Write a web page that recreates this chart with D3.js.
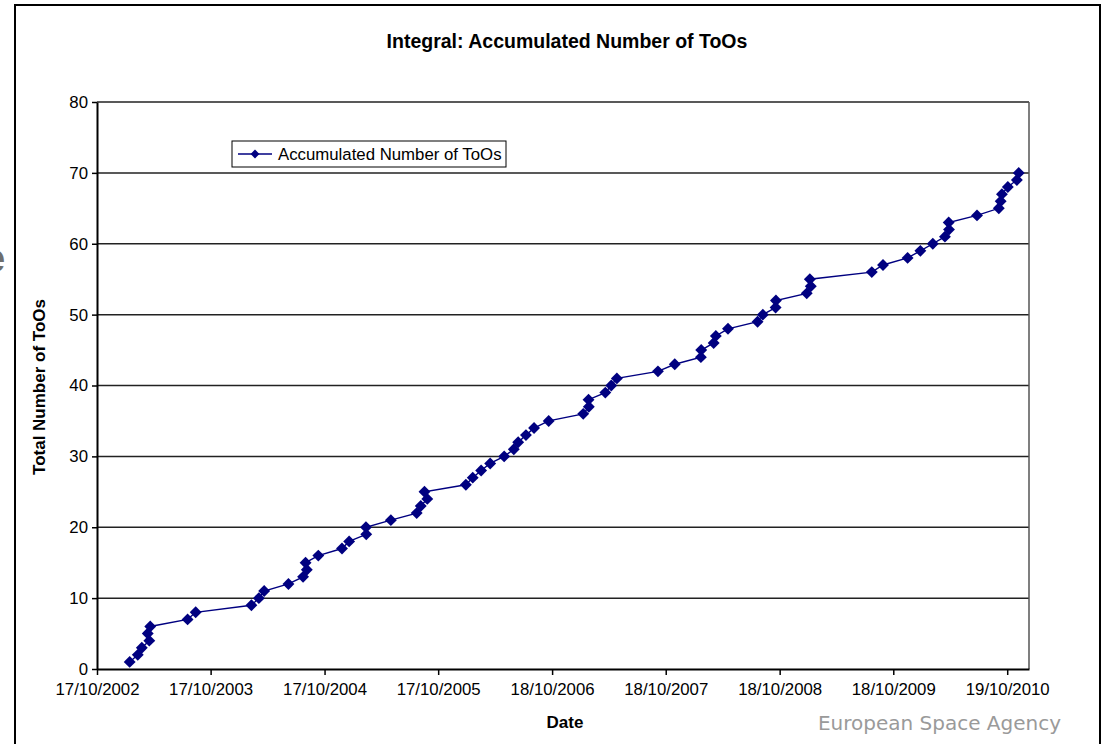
<!DOCTYPE html>
<html>
<head>
<meta charset="utf-8">
<script src="https://cdn.jsdelivr.net/npm/d3@7"></script>
<style>
  body { margin: 0; background: #fff; }
  svg { display: block; }
</style>
</head>
<body>
<script>
// Paramètres
const width = 1108;
const height = 744;
const margin = { top: 102, right: 79, bottom: 75, left: 97 };

// dates des ToOs (ordre du fichier, pas toujours trié)
const tooDates = [
  '2003-01-30', '2003-02-25', '2003-03-10', '2003-04-03', '2003-03-29',
  '2003-04-06', '2003-08-04', '2003-08-30', '2004-02-25', '2004-03-20',
  '2004-04-06', '2004-06-23', '2004-08-09', '2004-08-21', '2004-08-17',
  '2004-09-27', '2004-12-12', '2005-01-04', '2005-02-28', '2005-02-27',
  '2005-05-18', '2005-08-09', '2005-08-22', '2005-09-12', '2005-09-03',
  '2006-01-14', '2006-02-05', '2006-03-04', '2006-04-02', '2006-05-17',
  '2006-06-17', '2006-07-01', '2006-07-26', '2006-08-21', '2006-10-07',
  '2007-01-26', '2007-02-13', '2007-02-12', '2007-04-07', '2007-04-26',
  '2007-05-14', '2007-09-23', '2007-11-16', '2008-02-08', '2008-02-09',
  '2008-03-20', '2008-03-27', '2008-05-05', '2008-08-08', '2008-08-25',
  '2008-10-05', '2008-10-06', '2009-01-13', '2009-01-26', '2009-01-23',
  '2009-08-10', '2009-09-15', '2009-12-03', '2010-01-13', '2010-02-22',
  '2010-04-02', '2010-04-15', '2010-04-14', '2010-07-14', '2010-09-22',
  '2010-09-28', '2010-10-02', '2010-10-21', '2010-11-19', '2010-11-25'
];

// nombre cumulé
const tooCounts = [
   1,  2,  3,  4,  5,  6,  7,  8,  9, 10,
  11, 12, 13, 14, 15, 16, 17, 18, 19, 20,
  21, 22, 23, 24, 25, 26, 27, 28, 29, 30,
  31, 32, 33, 34, 35, 36, 37, 38, 39, 40,
  41, 42, 43, 44, 45, 46, 47, 48, 49, 50,
  51, 52, 53, 54, 55, 56, 57, 58, 59, 60,
  61, 62, 63, 64, 65, 66, 67, 68, 69, 70
];

const xTickLabels = [
  '17/10/2002', '17/10/2003', '17/10/2004', '17/10/2005', '18/10/2006',
  '18/10/2007', '18/10/2008', '18/10/2009', '19/10/2010'
];
const xDomain = ['2002-10-17', '2010-12-28'];
const yTicks = [0, 10, 20, 30, 40, 50, 60, 70, 80];

const parseDay = d3.utcParse('%Y-%m-%d');
const parseTick = d3.utcParse('%d/%m/%Y');
const formatTick = d3.utcFormat('%d/%m/%Y');

const data = tooDates.map((d, i) => ({ date: parseDay(d), count: tooCounts[i] }));

const svg = d3.select('body')
  .append('svg')
  .attr('width', width)
  .attr('height', height)
  .style('font-family', 'Arial, "Liberation Sans", sans-serif');

svg.append('rect')
  .attr('width', width)
  .attr('height', height)
  .attr('fill', '#fff');

// reste d'une lettre à gauche (coupée comme sur l'original)
svg.append('text')
  .attr('x', -17)
  .attr('y', 272)
  .attr('font-size', 40)
  .attr('font-weight', 'bold')
  .attr('fill', '#6e6e6e')
  .text('e');

// cadre du graphique
svg.append('rect')
  .attr('x', 15)
  .attr('y', 5)
  .attr('width', 1085)
  .attr('height', 760)
  .attr('fill', '#fff')
  .attr('stroke', '#000')
  .attr('stroke-width', 2);

// échelles
const x = d3.scaleUtc()
  .domain(xDomain.map(parseDay))
  .range([margin.left, width - margin.right]);

const y = d3.scaleLinear()
  .domain([0, 80])
  .range([height - margin.bottom, margin.top]);

// grille horizontale
svg.append('g')
  .selectAll('line')
  .data(yTicks.filter(d => d > 0))
  .join('line')
    .attr('x1', margin.left)
    .attr('x2', width - margin.right)
    .attr('y1', d => y(d))
    .attr('y2', d => y(d))
    .attr('stroke', '#222')
    .attr('stroke-width', 1.5);

// bord droit de la zone de tracé
svg.append('line')
  .attr('x1', width - margin.right)
  .attr('x2', width - margin.right)
  .attr('y1', y(80))
  .attr('y2', y(0))
  .attr('stroke', '#555')
  .attr('stroke-width', 1.5);

// axe horizontal
svg.append('g')
  .attr('transform', `translate(0, ${y(0)})`)
  .call(d3.axisBottom(x)
    .tickValues(xTickLabels.map(parseTick))
    .tickFormat(formatTick)
    .tickSize(6)
    .tickSizeOuter(0))
  .call(g => g.select('.domain').attr('stroke-width', 2))
  .call(g => g.selectAll('.tick line').attr('stroke-width', 1.5))
  .call(g => g.selectAll('.tick text')
    .attr('dy', '1.0em')
    .attr('font-size', 16.8)
    .attr('fill', '#000'));

// axe vertical
svg.append('g')
  .attr('transform', `translate(${margin.left}, 0)`)
  .call(d3.axisLeft(y)
    .tickValues(yTicks)
    .tickSize(5)
    .tickSizeOuter(0))
  .call(g => g.select('.domain').attr('stroke-width', 2))
  .call(g => g.selectAll('.tick line').attr('stroke-width', 1.5))
  .call(g => g.selectAll('.tick text')
    .attr('x', -9)
    .attr('font-size', 16.8)
    .attr('fill', '#000'));

// courbe
const line = d3.line()
  .x(d => x(d.date))
  .y(d => y(d.count));

svg.append('path')
  .datum(data)
  .attr('fill', 'none')
  .attr('stroke', '#000080')
  .attr('stroke-width', 1.4)
  .attr('d', line);

// losanges
const diamond = d3.symbol().type(d3.symbolDiamond2).size(90);

svg.append('g')
  .selectAll('path')
  .data(data)
  .join('path')
    .attr('transform', d => `translate(${x(d.date)}, ${y(d.count)})`)
    .attr('d', diamond)
    .attr('fill', '#000080');

// légende
const legend = svg.append('g').attr('transform', 'translate(232, 141)');
legend.append('rect')
  .attr('width', 274)
  .attr('height', 26)
  .attr('fill', '#fff')
  .attr('stroke', '#000')
  .attr('stroke-width', 1);
legend.append('line')
  .attr('x1', 6).attr('x2', 40)
  .attr('y1', 13).attr('y2', 13)
  .attr('stroke', '#000080')
  .attr('stroke-width', 1.4);
legend.append('path')
  .attr('transform', 'translate(23, 13)')
  .attr('d', d3.symbol().type(d3.symbolDiamond2).size(50))
  .attr('fill', '#000080');
legend.append('text')
  .attr('x', 46)
  .attr('y', 19)
  .attr('font-size', 16.8)
  .text('Accumulated Number of ToOs');

// titres
svg.append('text')
  .attr('x', 567)
  .attr('y', 48)
  .attr('text-anchor', 'middle')
  .attr('font-size', 19.5)
  .attr('font-weight', 'bold')
  .text('Integral: Accumulated Number of ToOs');

svg.append('text')
  .attr('x', 565)
  .attr('y', 728)
  .attr('text-anchor', 'middle')
  .attr('font-size', 17)
  .attr('font-weight', 'bold')
  .text('Date');

svg.append('text')
  .attr('transform', 'translate(45, 387) rotate(-90)')
  .attr('text-anchor', 'middle')
  .attr('font-size', 17)
  .attr('font-weight', 'bold')
  .text('Total Number of ToOs');

// filigrane
svg.append('text')
  .attr('x', 1061)
  .attr('y', 730)
  .attr('text-anchor', 'end')
  .attr('font-family', '"DejaVu Sans", sans-serif')
  .attr('font-size', 20)
  .attr('fill', '#9a9a9a')
  .text('European Space Agency');
</script>
</body>
</html>
